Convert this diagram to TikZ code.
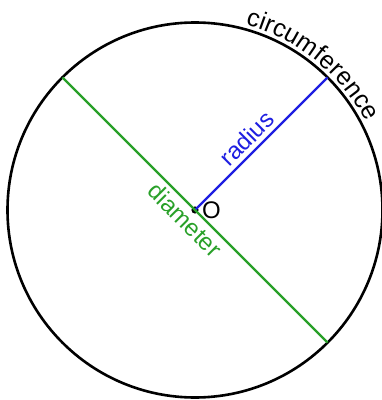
\documentclass[tikz,border=0pt]{standalone}
\usepackage{fontspec}
\setmainfont{Liberation Sans}
\usetikzlibrary{decorations.text}

\definecolor{radblue}{RGB}{30,30,225}
\definecolor{diagreen}{RGB}{40,160,40}

\begin{document}
\begin{tikzpicture}[
        x=1pt, y=1pt,
        rim/.style={draw=black, line width=2.6pt},
        seg/.style={line width=2.4pt},
        lbl/.style={font=\fontsize{24}{26}\selectfont, inner sep=1pt}
    ]
    \useasboundingbox (-195,-190) rectangle (187,210);

    % Circle and centre
    \coordinate (O) at (0,0);
    \draw[rim] (O) circle (187.5);
    \fill (O) circle (3.6);
    \node[lbl, anchor=west] (olbl) at (6,0) {O};

    % End points on the rim
    \coordinate (rimR) at (45:187.5);
    \coordinate (rimA) at (135:187.5);
    \coordinate (rimB) at (-45:187.5);

    % Radius and diameter
    \draw[seg, radblue] (O) -- node[lbl, pos=0.465, above=3pt, sloped, text=radblue] (radlbl) {radius} (rimR);
    \draw[seg, diagreen] (rimA) -- node[lbl, pos=0.5, below=3pt, sloped, text=diagreen] (dialbl) {diameter} (rimB);

    % Label along the rim
    \path[decorate, decoration={text along path, text align=center, raise=3pt,
        text format delimiters={|}{|}, text={|\fontsize{25}{27}\selectfont|circumference}}]
        (84:189) arc (84:18:189);

\end{tikzpicture}
\end{document}
